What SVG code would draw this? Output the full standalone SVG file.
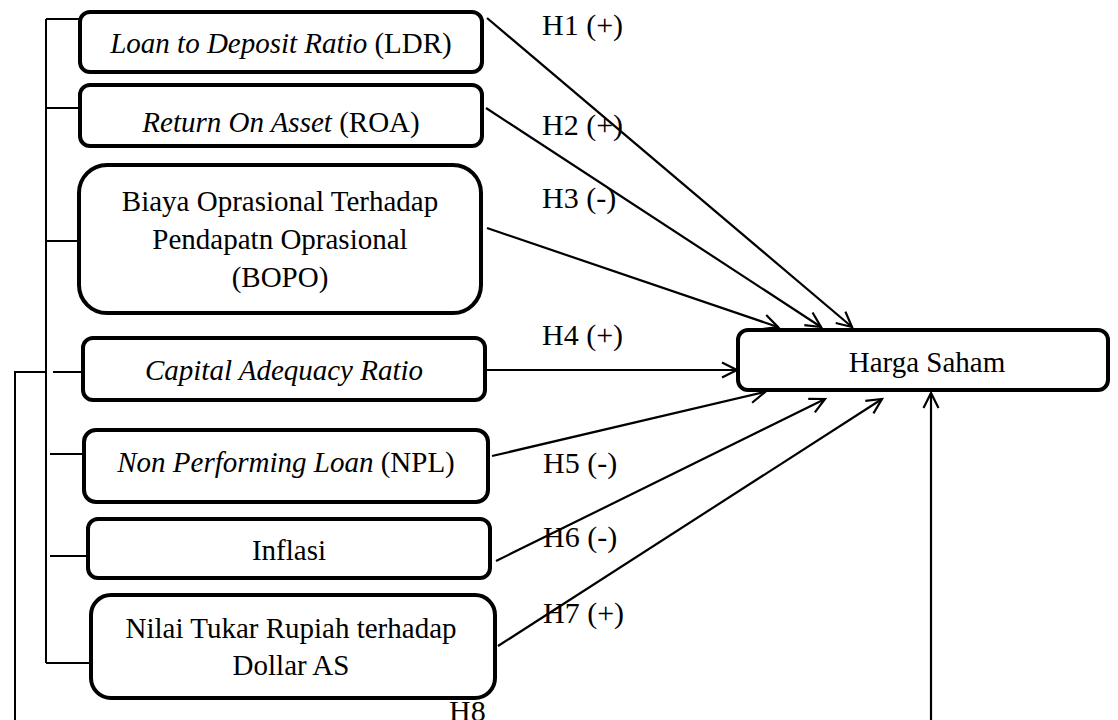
<svg xmlns="http://www.w3.org/2000/svg" width="1118" height="720" viewBox="0 0 1118 720">
<style>
.box{fill:#fff;stroke:#000;stroke-width:4}
.t{font-family:"Liberation Serif","Times New Roman",serif;font-size:29px;fill:#000;text-anchor:middle}
.lbl{font-family:"Liberation Serif","Times New Roman",serif;font-size:30px;fill:#000}
.ln{fill:none;stroke:#000;stroke-width:2}
.ar{fill:none;stroke:#000;stroke-width:2.2;marker-end:url(#ah)}
</style>
<defs>
<marker id="ah" markerUnits="userSpaceOnUse" markerWidth="22" markerHeight="20" refX="17" refY="9" orient="auto">
<path d="M2,1.5 L17,9 L2,16.5" fill="none" stroke="#000" stroke-width="2.2"/>
</marker>
</defs>
<g id="connectors">
<path class="ln" d="M46,19 V663 M46,19 H80 M46,108 H80 M46,241 H79 M53,372 H83 M50,454 H84 M50,556 H88 M46,663 H91"/>
<path class="ln" d="M15,720 V372 H45"/>
<line class="ar" x1="487" y1="18" x2="852" y2="327"/>
<line class="ar" x1="486" y1="108" x2="821" y2="327"/>
<line class="ar" x1="487" y1="228" x2="778" y2="327"/>
<line class="ar" x1="487" y1="370" x2="737" y2="370"/>
<line class="ar" x1="492" y1="456" x2="765" y2="392"/>
<line class="ar" x1="496" y1="561" x2="825" y2="399"/>
<line class="ar" x1="498" y1="646" x2="882" y2="399"/>
<line class="ar" x1="931" y1="720" x2="931" y2="393"/>
<text class="lbl" x="542" y="35">H1 (+)</text>
<text class="lbl" x="542" y="135">H2 (+)</text>
<text class="lbl" x="542" y="208">H3 (-)</text>
<text class="lbl" x="542" y="345">H4 (+)</text>
<text class="lbl" x="543" y="473">H5 (-)</text>
<text class="lbl" x="543" y="547">H6 (-)</text>
<text class="lbl" x="543" y="623">H7 (+)</text>
<text class="lbl" x="449" y="721">H8</text>
</g>
<g id="ldr">
<rect class="box" x="80" y="12" width="402" height="60" rx="10"/>
<text class="t" x="281" y="53"><tspan font-style="italic">Loan to Deposit Ratio</tspan> (LDR)</text>
</g>
<g id="roa">
<rect class="box" x="80" y="85" width="402" height="61" rx="10"/>
<text class="t" x="281" y="132"><tspan font-style="italic">Return On Asset</tspan> (ROA)</text>
</g>
<g id="bopo">
<rect class="box" x="79" y="165" width="402" height="148" rx="28"/>
<text class="t" x="280" y="211">Biaya Oprasional Terhadap</text>
<text class="t" x="280" y="249">Pendapatn Oprasional</text>
<text class="t" x="280" y="287">(BOPO)</text>
</g>
<g id="car">
<rect class="box" x="83" y="338" width="402" height="62" rx="10"/>
<text class="t" x="284" y="380" font-style="italic">Capital Adequacy Ratio</text>
</g>
<g id="npl">
<rect class="box" x="84" y="430" width="404" height="72" rx="12"/>
<text class="t" x="286" y="472"><tspan font-style="italic">Non Performing Loan</tspan> (NPL)</text>
</g>
<g id="inflasi">
<rect class="box" x="88" y="519" width="402" height="59" rx="10"/>
<text class="t" x="289" y="560">Inflasi</text>
</g>
<g id="kurs">
<rect class="box" x="91" y="595" width="404" height="103" rx="20"/>
<text class="t" x="291" y="638">Nilai Tukar Rupiah terhadap</text>
<text class="t" x="291" y="675">Dollar AS</text>
</g>
<g id="harga">
<rect class="box" x="738" y="330" width="370" height="60" rx="10"/>
<text class="t" x="927" y="372">Harga Saham</text>
</g>
</svg>
